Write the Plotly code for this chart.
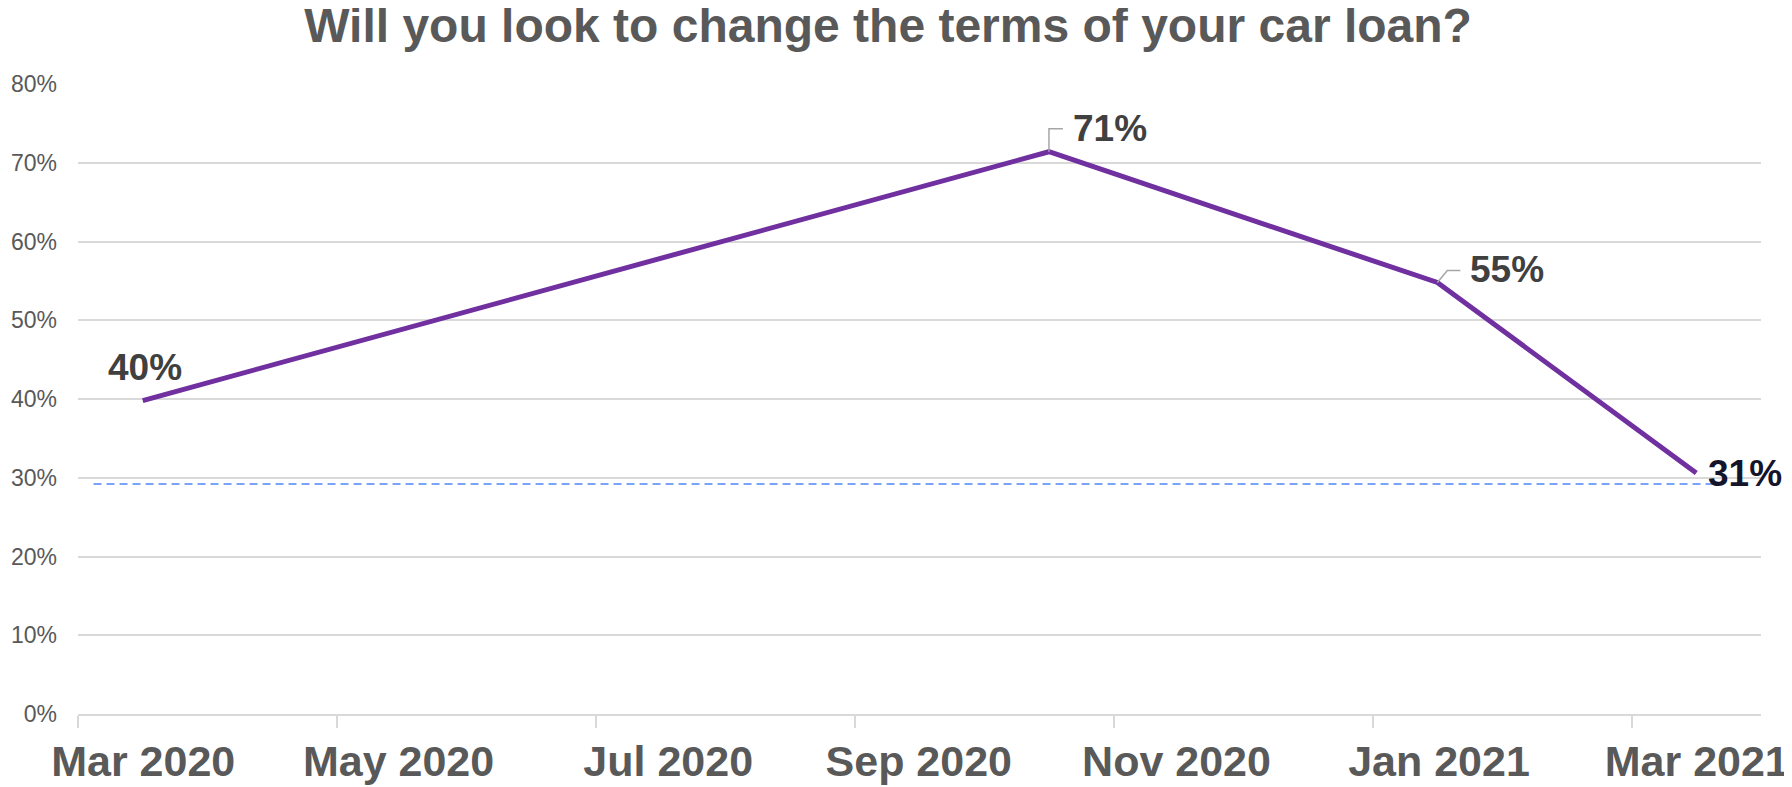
import plotly.graph_objects as go

# ---- data ----
survey_dates = ["2020-03-15", "2020-10-15", "2021-01-15", "2021-03-15"]
share_yes = [39.8, 71.4, 54.8, 30.6]
value_labels = ["40%", "71%", "55%", "31%"]

ref_value = 29.2
ref_start_month = 0.12   # in months after Mar 2020
ref_end_month = 12.66

x_tick_dates = ["2020-03-01", "2020-05-01", "2020-07-01", "2020-09-01",
                "2020-11-01", "2021-01-01", "2021-03-01"]
x_tick_text = ["Mar 2020", "May 2020", "Jul 2020", "Sep 2020",
               "Nov 2020", "Jan 2021", "Mar 2021"]
y_ticks = [0, 10, 20, 30, 40, 50, 60, 70, 80]
y_tick_text = [f"{v}%" for v in y_ticks]

title_text = "Will you look to change the terms of your car loan?"

FONT = "Liberation Sans, Arial, sans-serif"
GRAY = "#595959"


# the reference spaces months evenly: use a month-index axis (0 = Mar 2020)
def month_index(date_str, mid=False):
    y, m, d = (int(p) for p in date_str.split("-"))
    base = (y - 2020) * 12 + (m - 3)
    return base + (0.5 if mid else 0.0)


survey_x = [month_index(d, mid=True) for d in survey_dates]
tick_x = [month_index(d) for d in x_tick_dates]

fig = go.Figure()
fig.add_trace(go.Scatter(
    x=survey_x, y=share_yes, mode="lines",
    line=dict(color="#7030a0", width=5),
    hoverinfo="skip", showlegend=False,
))

# label offsets (px) relative to each point and leader paths
label_style = [
    dict(xshift=2, yshift=33, color="#404040", leader=None),
    dict(xshift=61, yshift=23, color="#404040", leader="M0,0 L0,23 L14,23"),
    dict(xshift=70, yshift=13, color="#404040", leader="M0,0 L10,12 L23,12"),
    dict(xshift=49, yshift=0, color="#14142b", leader=None),
]

annotations = []
shapes = []
for xv, v, t, st in zip(survey_x, share_yes, value_labels, label_style):
    annotations.append(dict(
        x=xv, y=v, xref="x", yref="y", text=t, showarrow=False,
        xanchor="center", yanchor="middle",
        xshift=st["xshift"], yshift=st["yshift"],
        font=dict(family=FONT, size=37, color=st["color"], weight="bold"),
    ))
    if st["leader"]:
        shapes.append(dict(
            type="path", xref="x", yref="y",
            xsizemode="pixel", ysizemode="pixel",
            xanchor=xv, yanchor=v, path=st["leader"],
            line=dict(color="#a6a6a6", width=1.5),
        ))

# reference dashed line
shapes.append(dict(
    type="line", xref="x", yref="y",
    x0=ref_start_month, x1=ref_end_month, y0=ref_value, y1=ref_value,
    line=dict(color="#4f86f7", width=1.6, dash="8px,5px"),
))

# the page body has an 8px margin, so the figure is 8px smaller and
# its margins 8px smaller on the left/top
fig.update_layout(
    width=1784, height=779,
    margin=dict(l=70, r=31, t=76, b=73, autoexpand=False),
    paper_bgcolor="white", plot_bgcolor="white",
    title=dict(
        text=title_text, x=0.4933, xanchor="center",
        y=0.999, yanchor="top", yref="container",
        font=dict(family=FONT, size=48, color=GRAY, weight="bold"),
    ),
    xaxis=dict(
        type="linear", range=[0, 13],
        tickvals=tick_x, ticktext=x_tick_text,
        showgrid=False, zeroline=False, automargin=False,
        showline=True, linecolor="#d9d9d9", linewidth=2,
        ticks="outside", ticklen=12, tickcolor="#d9d9d9", tickwidth=1.5,
        ticklabelposition="outside left", ticklabelshift=159,
        ticklabelstandoff=8,
        tickfont=dict(family=FONT, size=43, color=GRAY, weight="bold"),
    ),
    yaxis=dict(
        range=[0, 80], tickvals=y_ticks, ticktext=y_tick_text,
        showgrid=True, gridcolor="#d9d9d9", gridwidth=1.5,
        zeroline=False, showline=False, ticks="", automargin=False,
        ticklabelstandoff=20,
        tickfont=dict(family=FONT, size=23, color=GRAY),
    ),
    annotations=annotations,
    shapes=shapes,
)

fig.write_html("out.html")
